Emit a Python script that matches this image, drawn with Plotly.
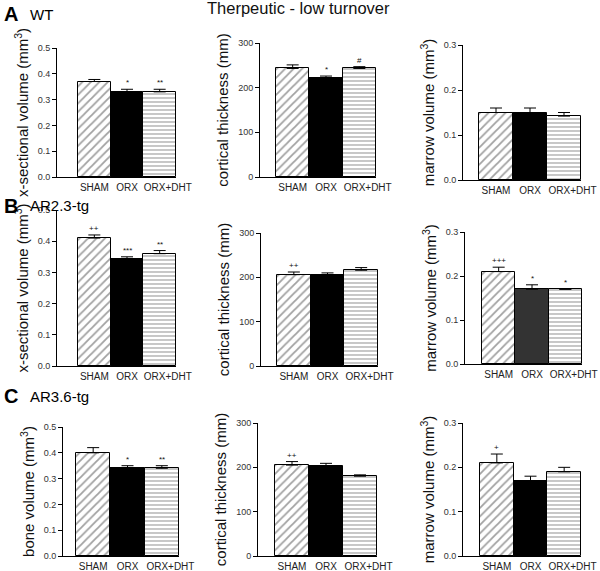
import plotly.graph_objects as go

groups = ["SHAM", "ORX", "ORX+DHT"]

# WT
wt_xsec = [0.37, 0.33, 0.33]
wt_xsec_err = [0.008, 0.01, 0.01]
wt_xsec_sig = ["", "*", "**"]
wt_cort = [243, 222, 243]
wt_cort_err = [8, 4, 4]
wt_cort_sig = ["", "*", "#"]
wt_marrow = [0.15, 0.15, 0.142]
wt_marrow_err = [0.01, 0.01, 0.008]
wt_marrow_sig = ["", "", ""]

# AR2.3-tg
ar23_xsec = [0.41, 0.342, 0.36]
ar23_xsec_err = [0.01, 0.008, 0.01]
ar23_xsec_sig = ["++", "***", "**"]
ar23_cort = [206, 206, 216]
ar23_cort_err = [6, 4, 6]
ar23_cort_sig = ["++", "", ""]
ar23_marrow = [0.21, 0.17, 0.17]
ar23_marrow_err = [0.01, 0.01, 0.0]
ar23_marrow_sig = ["+++", "*", "*"]

# AR3.6-tg
ar36_bone = [0.40, 0.34, 0.34]
ar36_bone_err = [0.02, 0.01, 0.01]
ar36_bone_sig = ["", "*", "**"]
ar36_cort = [205, 203, 180]
ar36_cort_err = [8, 6, 3]
ar36_cort_sig = ["++", "", ""]
ar36_marrow = [0.21, 0.17, 0.19]
ar36_marrow_err = [0.02, 0.01, 0.01]
ar36_marrow_sig = ["+", "", ""]

W, H = 600, 571
FONT = "Arial, Liberation Sans, sans-serif"

# (values, errors, marks, y title, y max, dtick, orx colour, pixel box: axis_x, bar_start, bar_end, top, bottom)
panels = [
    (wt_xsec, wt_xsec_err, wt_xsec_sig, "x-sectional volume (mm<sup>3</sup>)", 0.5, 0.1, "#000", (57, 78, 176, 48, 177)),
    (wt_cort, wt_cort_err, wt_cort_sig, "cortical thickness (mm)", 300, 100, "#000", (260, 276, 376, 43, 177)),
    (wt_marrow, wt_marrow_err, wt_marrow_sig, "marrow volume (mm<sup>3</sup>)", 0.3, 0.1, "#000", (463, 479, 581, 45, 180)),
    (ar23_xsec, ar23_xsec_err, ar23_xsec_sig, "x-sectional volume (mm<sup>3</sup>)", 0.5, 0.1, "#000", (57, 78, 176, 210, 366)),
    (ar23_cort, ar23_cort_err, ar23_cort_sig, "cortical thickness (mm)", 300, 100, "#000", (261, 277, 378, 233, 366)),
    (ar23_marrow, ar23_marrow_err, ar23_marrow_sig, "marrow volume (mm<sup>3</sup>)", 0.3, 0.1, "#333", (465, 482, 582, 232, 364)),
    (ar36_bone, ar36_bone_err, ar36_bone_sig, "bone volume (mm<sup>3</sup>)", 0.5, 0.1, "#000", (63, 76, 179, 427, 556)),
    (ar36_cort, ar36_cort_err, ar36_cort_sig, "cortical thickness (mm)", 300, 100, "#000", (258, 275, 377, 423, 556)),
    (ar36_marrow, ar36_marrow_err, ar36_marrow_sig, "marrow volume (mm<sup>3</sup>)", 0.3, 0.1, "#000", (463, 480, 581, 423, 556)),
]

fig = go.Figure()
annotations = []

for n, (vals, errs, sigs, ytitle, ymax, dtick, orx_col, box) in enumerate(panels, start=1):
    ax_x, b0, b1, top, bot = box
    bw = (b1 - b0) / 3
    xs = "x" if n == 1 else f"x{n}"
    ys = "y" if n == 1 else f"y{n}"

    fig.add_trace(go.Bar(
        x=[0, 1, 2], y=vals,
        xaxis=xs, yaxis=ys, width=1,
        marker=dict(
            color=["white", orx_col, "white"],
            line=dict(color="black", width=1),
            pattern=dict(shape=["/", "", "-"], fgcolor="#333", bgcolor="white",
                         size=[6, 6, 4], solidity=0.3, fillmode="overlay"),
        ),
        error_y=dict(type="data", array=errs, arrayminus=[0, 0, 0], symmetric=False,
                     color="black", thickness=1, width=6),
        showlegend=False,
    ))

    xa = dict(
        domain=[ax_x / W, b1 / W],
        range=[-0.5 - (b0 - ax_x) / bw, 2.5],
        anchor=ys, showgrid=False, zeroline=False, automargin=False,
        showline=True, linecolor="black", linewidth=1,
        # the long label sits a little right of its bar, as in the source figure
        tickmode="array", tickvals=[0, 1, 2.25], ticktext=groups,
        ticks="", tickangle=0, ticklabelstandoff=1,
        tickfont=dict(size=10, color="#222", family=FONT),
        fixedrange=True,
    )
    ya = dict(
        domain=[1 - bot / H, 1 - top / H],
        range=[0, ymax], anchor=xs, showgrid=False, zeroline=False, automargin=False,
        showline=True, linecolor="black", linewidth=1,
        ticks="outside", ticklen=4, tickcolor="black",
        dtick=dtick, tick0=0,
        tickformat=".1f" if ymax < 1 else "d",
        tickfont=dict(size=9, color="#333", family=FONT),
        title=dict(text=ytitle, font=dict(size=15, color="#111", family=FONT), standoff=5),
        fixedrange=True,
    )
    fig.layout[("xaxis" if n == 1 else f"xaxis{n}")] = xa
    fig.layout[("yaxis" if n == 1 else f"yaxis{n}")] = ya

    for i, s in enumerate(sigs):
        if s:
            annotations.append(dict(
                x=i, y=vals[i] + errs[i], xref=xs, yref=ys,
                text=s, showarrow=False, yanchor="bottom", yshift=0,
                font=dict(size=8, color="#111", family=FONT),
            ))

# panel letters and genotype labels
for letter, geno, py in [("A", "WT", 14), ("B", "AR2.3-tg", 206), ("C", "AR3.6-tg", 396)]:
    annotations.append(dict(x=2 / W, y=1 - py / H, xref="paper", yref="paper",
                            xanchor="left", yanchor="middle", showarrow=False,
                            text=f"<b>{letter}</b>", font=dict(size=20, color="black", family=FONT)))
    annotations.append(dict(x=28 / W, y=1 - py / H, xref="paper", yref="paper",
                            xanchor="left", yanchor="middle", showarrow=False,
                            text=geno, font=dict(size=15, color="black", family=FONT)))

annotations.append(dict(x=298 / W, y=1 - 8 / H, xref="paper", yref="paper",
                        xanchor="center", yanchor="middle", showarrow=False,
                        text="Therpeutic - low turnover",
                        font=dict(size=16.5, color="#111", family=FONT)))

fig.update_layout(
    width=W, height=H,
    margin=dict(l=0, r=0, t=0, b=0),
    paper_bgcolor="white", plot_bgcolor="white",
    bargap=0, annotations=annotations,
    font=dict(family=FONT),
)

# drop the default 8px page margin so the figure fills the window exactly
fig.write_html("out.html", config={"displayModeBar": False},
               post_script="document.body.style.margin='0';")
